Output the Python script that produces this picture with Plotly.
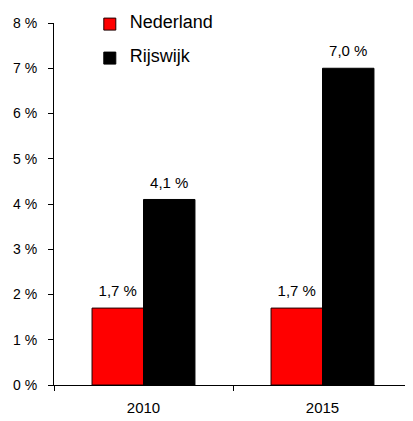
import plotly.graph_objects as go

categories = ["2010", "2015"]
nederland = [1.7, 1.7]
rijswijk = [4.1, 7.0]
series_names = ["Nederland", "Rijswijk"]
tick_vals = [0, 1, 2, 3, 4, 5, 6, 7, 8]
tick_text = ["0 %", "1 %", "2 %", "3 %", "4 %", "5 %", "6 %", "7 %", "8 %"]

def fmt(v):
    return "<span style='font-size:15px'>" + f"{v:.1f}".replace(".", ",") + " %</span><br> "

def legend_name(n):
    return "<span style='font-size:18px'>" + n + "</span>"

fig = go.Figure()
fig.add_trace(go.Bar(
    x=categories, y=nederland, name=legend_name(series_names[0]), legendgroup="a",
    marker=dict(color="#ff0000", line=dict(color="#200000", width=1)),
    text=[fmt(v) for v in nederland], textposition="outside",
    textfont=dict(size=6, color="#000000"), cliponaxis=False,
))
fig.add_trace(go.Bar(
    x=categories, y=rijswijk, name=legend_name(series_names[1]), legendgroup="b",
    marker=dict(color="#000000", line=dict(color="#000000", width=1)),
    text=[fmt(v) for v in rijswijk], textposition="outside",
    textfont=dict(size=6, color="#000000"), cliponaxis=False,
))

fig.update_layout(
    width=405, height=413,
    margin=dict(l=46, r=1, t=15, b=36),
    paper_bgcolor="white", plot_bgcolor="white",
    font=dict(family="Liberation Sans, Arial, sans-serif", color="#000000", size=14),
    barmode="group", bargap=0.425, bargroupgap=0,
    showlegend=True,
    legend=dict(
        x=0.1, y=1.037, xanchor="left", yanchor="top",
        font=dict(size=10), traceorder="grouped", tracegroupgap=15,
        bgcolor="rgba(0,0,0,0)", itemwidth=30,
    ),
    xaxis=dict(
        showline=True, linecolor="#000000", linewidth=1,
        ticks="outside", tickson="boundaries", ticklen=5, tickcolor="#000000",
        showgrid=False, tickfont=dict(size=15), ticklabelstandoff=9,
    ),
    yaxis=dict(
        range=[0, 8], tickvals=tick_vals, ticktext=tick_text,
        showline=True, linecolor="#000000", linewidth=1,
        ticks="outside", ticklen=5, tickcolor="#000000",
        showgrid=False, zeroline=False, tickfont=dict(size=14),
        ticklabelstandoff=8, automargin=False,
    ),
)

fig.write_html("out.html")
